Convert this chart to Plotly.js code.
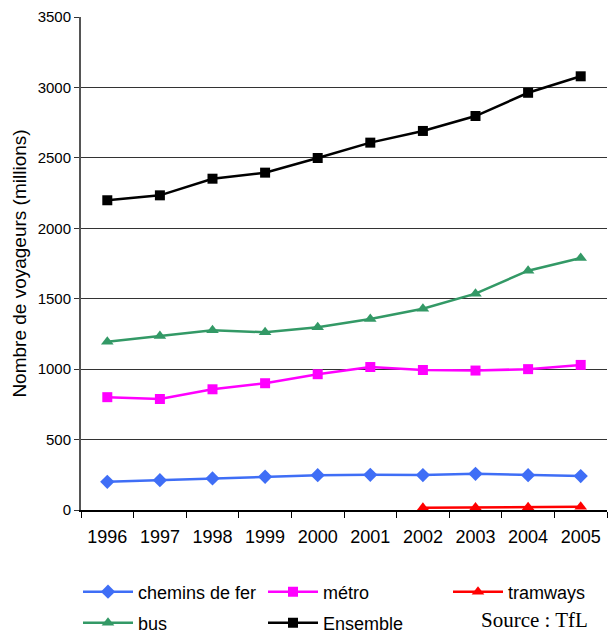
<!DOCTYPE html>
<html><head><meta charset="utf-8">
<script src="https://cdn.plot.ly/plotly-3.0.1.min.js"></script>
<style>html,body{margin:0;padding:0;background:#fff}#chart{width:608px;height:633px}</style>
</head><body><div id="chart"></div>
<script>
const years = ['1996','1997','1998','1999','2000','2001','2002','2003','2004','2005'];
const cheminsDeFer = [200, 212, 224, 236, 247, 250, 248, 257, 247, 241];
const metro = [801, 788, 857, 900, 964, 1015, 994, 990, 1000, 1030];
const tramYears = ['2002','2003','2004','2005'];
const tramways = [16, 18, 20, 23];
const bus = [1195, 1235, 1276, 1262, 1297, 1356, 1429, 1536, 1699, 1789];
const ensemble = [2199, 2234, 2352, 2395, 2499, 2608, 2691, 2797, 2962, 3079];
const yTicks = [0, 500, 1000, 1500, 2000, 2500, 3000, 3500];

const mk = (name, x, y, color, symbol, size, legend) => ({
  type: 'scatter', mode: 'lines+markers', name, x, y, legend,
  line: {color, width: 2.5},
  marker: {color, symbol, size}
});

const data = [
  mk('chemins de fer', years, cheminsDeFer, '#3F6EF6', 'diamond', 11, 'legend'),
  mk('métro', years, metro, '#FF00FF', 'square', 10, 'legend2'),
  mk('tramways', tramYears, tramways, '#FF0000', 'triangle-up', 11, 'legend3'),
  mk('bus', years, bus, '#339966', 'triangle-up', 11, 'legend4'),
  mk('Ensemble', years, ensemble, '#000000', 'square', 10, 'legend5')
];

const W = 608, H = 633;
const leg = (px, py) => ({
  xref: 'container', yref: 'container',
  x: px / W, y: 1 - py / H, xanchor: 'left', yanchor: 'middle',
  orientation: 'h',
  font: {size: 18, family: 'Liberation Sans, Arial, sans-serif'},
  itemwidth: 50, bgcolor: 'rgba(0,0,0,0)', borderwidth: 0
});

const layout = {
  width: W, height: H,
  margin: {l: 81, r: 1, t: 17, b: 123},
  paper_bgcolor: '#fff', plot_bgcolor: '#fff',
  font: {family: 'Liberation Sans, Arial, sans-serif', color: '#000'},
  showlegend: true,
  xaxis: {
    type: 'category', categoryarray: years, range: [-0.5, 9.5],
    tickson: 'boundaries', ticks: 'outside', ticklen: 6, tickcolor: '#000',
    showline: true, linecolor: '#000', linewidth: 1.5,
    showgrid: false, zeroline: false,
    tickfont: {size: 18}, ticklabelstandoff: 10
  },
  yaxis: {
    range: [0, 3500], tickvals: yTicks, ticktext: yTicks.map(String),
    ticks: 'outside', ticklen: 5, tickcolor: '#333',
    showline: true, linecolor: '#555', linewidth: 2,
    showgrid: true, gridcolor: '#333', gridwidth: 1, zeroline: false,
    tickfont: {size: 15},
    title: {text: 'Nombre de voyageurs (millions)', font: {size: 19}, standoff: 6}
  },
  legend: leg(78, 592),
  legend2: leg(263, 592),
  legend3: leg(448, 592),
  legend4: leg(78, 623),
  legend5: leg(263, 623),
  annotations: [{
    text: 'Source : TfL', xref: 'paper', yref: 'paper',
    x: 0.758, xanchor: 'left', y: -0.224, yanchor: 'middle',
    borderpad: 0,
    showarrow: false, font: {family: 'Liberation Serif, Times New Roman, serif', size: 21}
  }]
};

Plotly.newPlot('chart', data, layout, {displayModeBar: false, staticPlot: true});
</script></body></html>
